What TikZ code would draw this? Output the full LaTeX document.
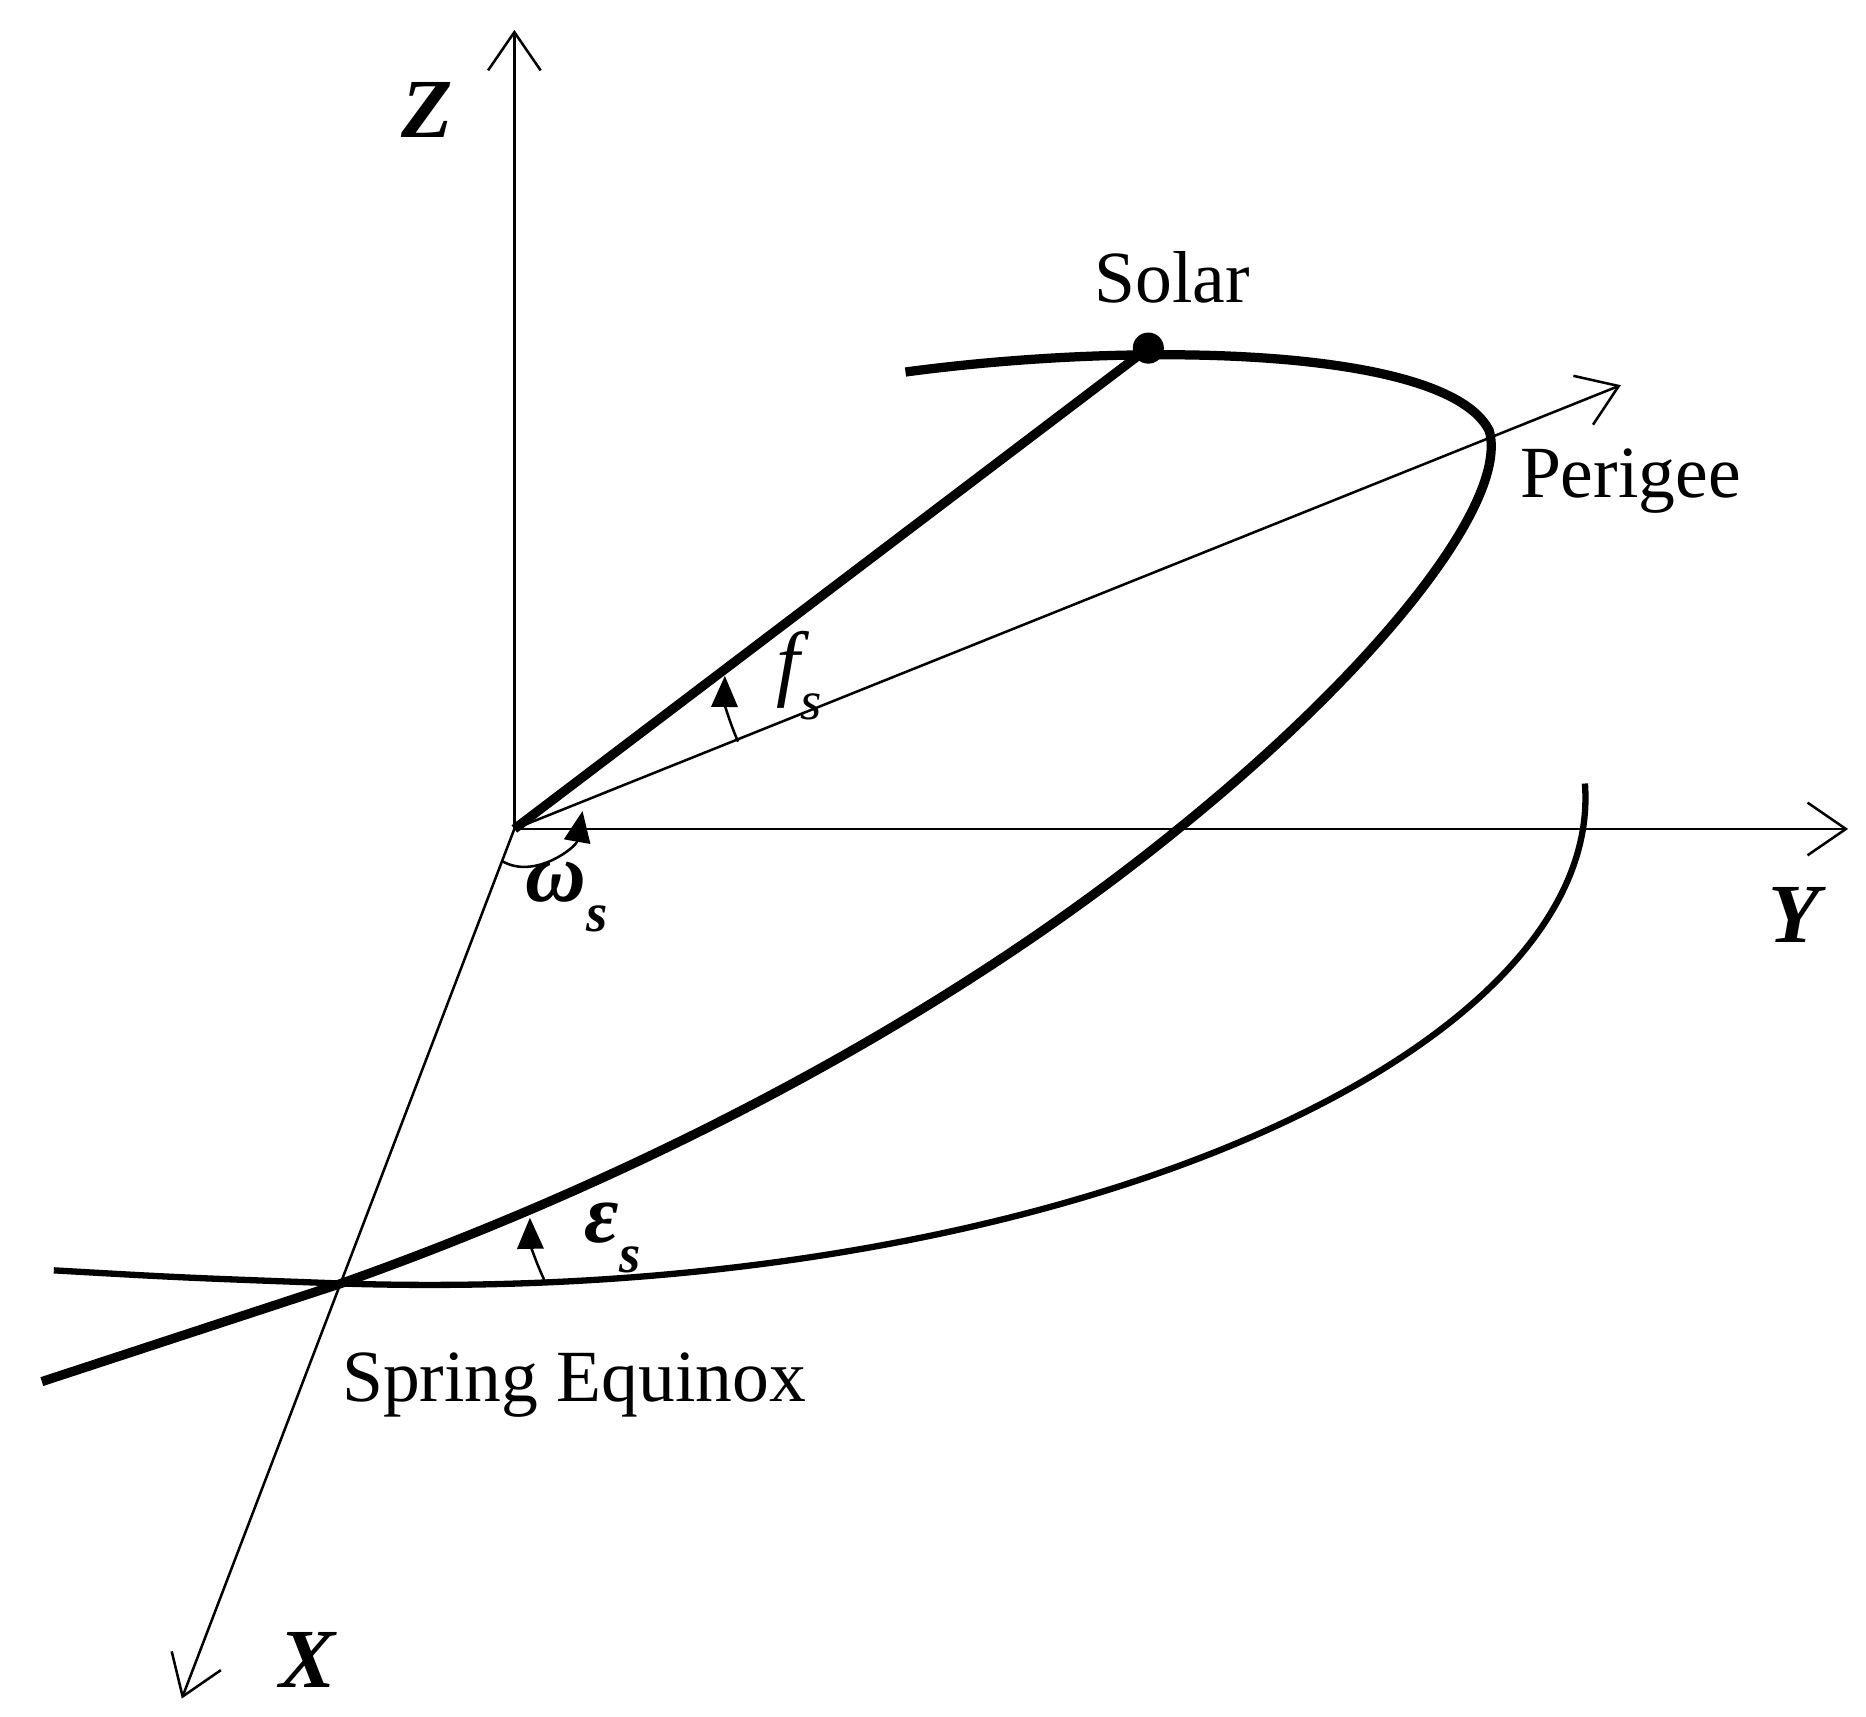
\documentclass[tikz,border=0pt]{standalone}
\usepackage{fontspec}
\setmainfont{Liberation Serif}
\usetikzlibrary{arrows.meta}
\newcommand{\mysub}[1]{\raisebox{-0.35em}{\fontsize{13}{14}\selectfont\itshape #1}}
\begin{document}
\begin{tikzpicture}[x=0.1mm,y=-0.1mm,
  axis/.style={line width=0.6pt,-{Straight Barb[length=3.2mm,width=4.4mm,line width=0.6pt]}},
  thick curve/.style={line width=2.2pt},
  thin curve/.style={line width=1.5pt},
  lab/.style={font=\fontsize{17.5}{20}\selectfont,inner sep=0pt},
  glab/.style={font=\fontsize{20}{22}\selectfont\itshape,inner sep=0pt},
  anglearc/.style={line width=0.6pt,-{Triangle[length=2.6mm,width=2.2mm]}}]
\useasboundingbox (0,0) rectangle (1560,1435);
\coordinate (O) at (430,693);
\coordinate (Zt) at (430,25);
\coordinate (Yt) at (1545,693);
\coordinate (Xt) at (152,1420);
\coordinate (Pt) at (1355,322);
\coordinate (S) at (960,291);
\coordinate (E) at (285,1073);
\draw[axis] (O) -- (Zt);
\draw[axis] (O) -- (Yt);
\draw[axis] (O) -- (Xt);
\draw[axis] (O) -- (Pt);
\draw[thick curve] (O) -- (S);
\fill (S) circle (13);
\draw[thick curve] (757,311) .. controls (950,285) and (1210,290) .. (1245,360)
  .. controls (1262,420) and (1150,560) .. (985,693)
  .. controls (780,860) and (520,990) .. (E) -- (35,1155);
\draw[thin curve] (45,1062) .. controls (150,1068) .. (E)
  .. controls (880,1092) and (1342,880) .. (1325,655);
\draw[anglearc] (617,620) to[bend left=12] (606,565);
\draw[anglearc] (455,1070) to[bend left=12] (443,1018);
\draw[anglearc] (420,720) to[out=-30,in=-100,looseness=1] (487,678);
\node[lab,font=\fontsize{20}{22}\selectfont\bfseries\itshape] (zl) at (357,92) {Z};
\node[lab,font=\fontsize{20}{22}\selectfont\bfseries\itshape] (yl) at (1500,765) {Y};
\node[lab,font=\fontsize{20}{22}\selectfont\bfseries\itshape] (xl) at (257,1388) {X};
\node[lab] (sol) at (980,232) {Solar};
\node[lab] (per) at (1363,402) {Perigee};
\node[lab] (se) at (480,1158) {Spring Equinox};
\node[glab] (fs) at (668,565) {f\mysub{s}};
\node[glab] (ws) at (474,750) {\bfseries ω\mysub{s}};
\node[glab] (es) at (512,1035) {\bfseries ε\mysub{s}};
\end{tikzpicture}
\end{document}
